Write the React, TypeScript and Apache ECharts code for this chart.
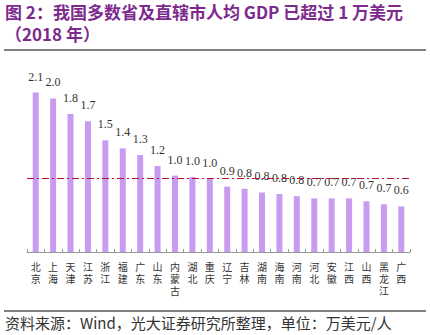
import React, { useEffect, useRef } from "react";
import * as echarts from "echarts";

const categories = ["北京", "上海", "天津", "江苏", "浙江", "福建", "广东", "山东", "内蒙古", "湖北", "重庆", "辽宁", "吉林", "湖南", "海南", "河南", "河北", "安徽", "江西", "山西", "黑龙江", "广西"];
const gdpPerCapita = [2.17, 2.09, 1.88, 1.78, 1.52, 1.41, 1.32, 1.17, 1.04, 1.02, 1.0, 0.89, 0.86, 0.81, 0.79, 0.76, 0.73, 0.73, 0.73, 0.69, 0.65, 0.62];
const valueLabels = ["2.1", "2.0", "1.8", "1.7", "1.5", "1.4", "1.3", "1.2", "1.0", "1.0", "1.0", "0.9", "0.8", "0.8", "0.8", "0.8", "0.7", "0.7", "0.7", "0.7", "0.7", "0.6"];
const thresholdValue = 1.0;

const titleLine1 = "图 2：我国多数省及直辖市人均 GDP 已超过 1 万美元";
const titleLine2 = "（2018 年）";
const footerText = "资料来源：Wind，光大证券研究所整理，单位：万美元/人";

const LABEL_MARGIN = 9;
const LABEL_LINE = 12;

function charAxis(row: number) {
  return {
    type: "category",
    data: categories,
    position: "bottom",
    axisLine: { show: row === 0, lineStyle: { color: "#999999", width: 1 } },
    axisTick: { show: row === 0, inside: true, length: 3, lineStyle: { color: "#999999" } },
    splitLine: { show: false },
    axisLabel: {
      interval: 0,
      margin: LABEL_MARGIN + row * LABEL_LINE,
      fontSize: 10,
      lineHeight: 11,
      color: "#333333",
      fontFamily: "Noto Sans CJK SC",
      formatter: (v: string) => v.charAt(row) || "",
    },
  };
}

export default function App() {
  const ref = useRef<HTMLDivElement>(null);
  useEffect(() => {
    if (!ref.current) return;
    const chart = echarts.init(ref.current, null, { renderer: "svg" });
    chart.setOption({
      animation: false,
      backgroundColor: "#ffffff",
      grid: { left: 27, right: 20, top: 61, bottom: 83 },
      xAxis: [charAxis(0), charAxis(1), charAxis(2)],
      yAxis: {
        type: "value",
        min: 0,
        max: 2.6,
        show: false,
        splitLine: { show: false },
      },
      series: [
        {
          type: "bar",
          xAxisIndex: 0,
          data: gdpPerCapita,
          barWidth: 6,
          itemStyle: { color: "#c79cf0" },
          label: {
            show: true,
            position: "top",
            distance: 10,
            fontSize: 12,
            color: "#333333",
            fontFamily: "Liberation Serif",
            formatter: (p: any) => valueLabels[p.dataIndex],
          },
          markLine: {
            silent: true,
            symbol: "none",
            label: { show: false },
            lineStyle: { color: "#c0102a", width: 1, type: [7, 3, 2, 3] },
            data: [{ yAxis: thresholdValue }],
          },
        },
      ],
      graphic: [
        {
          type: "text",
          left: 5,
          top: 3,
          style: {
            text: titleLine1,
            font: "bold 17px 'Noto Sans CJK SC'",
            fill: "#7d2a8e",
          },
        },
        {
          type: "text",
          left: 5,
          top: 25,
          style: {
            text: titleLine2,
            font: "bold 17px 'Noto Sans CJK SC'",
            fill: "#7d2a8e",
          },
        },
        {
          type: "line",
          shape: { x1: 4, y1: 50, x2: 426, y2: 50 },
          style: { stroke: "#000000", lineWidth: 1 },
        },
        {
          type: "line",
          shape: { x1: 4, y1: 311, x2: 426, y2: 311 },
          style: { stroke: "#000000", lineWidth: 1 },
        },
        {
          type: "text",
          left: 5,
          top: 315,
          style: {
            text: footerText,
            font: "15px 'Noto Sans CJK SC'",
            fill: "#333333",
          },
        },
      ],
    });
    return () => chart.dispose();
  }, []);
  return (
    <div
      ref={ref}
      style={{ position: "fixed", left: 0, top: 0, width: 430, height: 335 }}
    />
  );
}
